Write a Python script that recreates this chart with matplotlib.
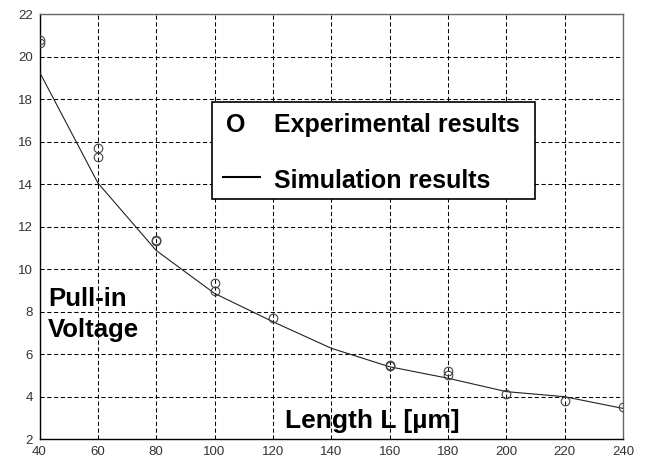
import matplotlib
matplotlib.use("Agg")
import matplotlib.pyplot as plt
from matplotlib import font_manager
from matplotlib.patches import Rectangle

# experimental pull-in voltage (two measurements per length)
exp_L = [40, 40, 60, 60, 80, 80, 100, 100, 120, 160, 160, 180, 180, 200, 220, 240]
exp_V = [20.8, 20.65, 15.7, 15.28, 11.38, 11.32, 9.33, 8.98, 7.68, 5.5, 5.44, 5.21, 5.02, 4.12, 3.8, 3.52]

# simulated pull-in voltage
sim_L = [40, 60, 80, 100, 120, 140, 160, 180, 200, 220, 240]
sim_V = [19.27, 14.05, 10.87, 8.85, 7.52, 6.27, 5.4, 4.86, 4.23, 3.99, 3.44]

xticks = list(range(40, 241, 20))
yticks = list(range(2, 23, 2))

plt.rcParams["font.family"] = ["Liberation Sans", "DejaVu Sans"]

# legend text in the reference is tall and narrow
names = {f.name for f in font_manager.fontManager.ttflist}
if "Liberation Sans Narrow" in names:
    leg_font = ["Liberation Sans Narrow", "DejaVu Sans"]
    leg_size = 22
else:
    leg_font = ["Liberation Sans", "DejaVu Sans"]
    leg_size = 18

fig = plt.figure(figsize=(6.5, 4.61), dpi=100)
ax = fig.add_axes([0.0608, 0.0477, 0.8977, 0.9219])

ax.plot(sim_L, sim_V, color="#222222", lw=0.8, zorder=3)
ax.plot(exp_L, exp_V, "o", ms=6.2, mfc="none", mec="#444444", mew=0.8, zorder=4)

ax.set_xlim(40, 240)
ax.set_ylim(2, 22)
ax.set_xticks(xticks)
ax.set_yticks(yticks)
ax.tick_params(length=0, labelsize=9.5, labelcolor="#333333")
ax.tick_params(axis="x", pad=5)
ax.tick_params(axis="y", pad=5)
ax.grid(True, color="black", lw=0.75, linestyle=(0, (4, 2.5)))

for s in ["left", "bottom"]:
    ax.spines[s].set_color("black")
    ax.spines[s].set_linewidth(1.0)
for s in ["top", "right"]:
    ax.spines[s].set_color("#666666")
    ax.spines[s].set_linewidth(1.0)

# legend drawn as a boxed pair of labels
ax.add_patch(Rectangle((99.2, 13.3), 110.5, 4.56, facecolor="white",
                       edgecolor="black", lw=1.2, zorder=5))
ax.text(103.9, 16.46, "O", fontsize=leg_size, fontweight="bold",
        family=leg_font, va="baseline", zorder=6)
ax.text(120.3, 16.46, "Experimental results", fontsize=leg_size,
        fontweight="bold", family=leg_font, va="baseline", zorder=6)
ax.plot([102.9, 115.5], [14.34, 14.34], color="black", lw=1.5, zorder=6)
ax.text(120.3, 13.81, "Simulation results", fontsize=leg_size,
        fontweight="bold", family=leg_font, va="baseline", zorder=6)

ax.text(43.0, 8.26, "Pull-in", fontsize=18.5, fontweight="bold",
        va="baseline", zorder=6)
ax.text(43.0, 6.81, "Voltage", fontsize=18.5, fontweight="bold",
        va="baseline", zorder=6)
ax.text(124.3, 2.52, "Length L [\u00b5m]", fontsize=19, fontweight="bold",
        va="baseline", zorder=6)

fig.savefig("out.png", dpi=100)
